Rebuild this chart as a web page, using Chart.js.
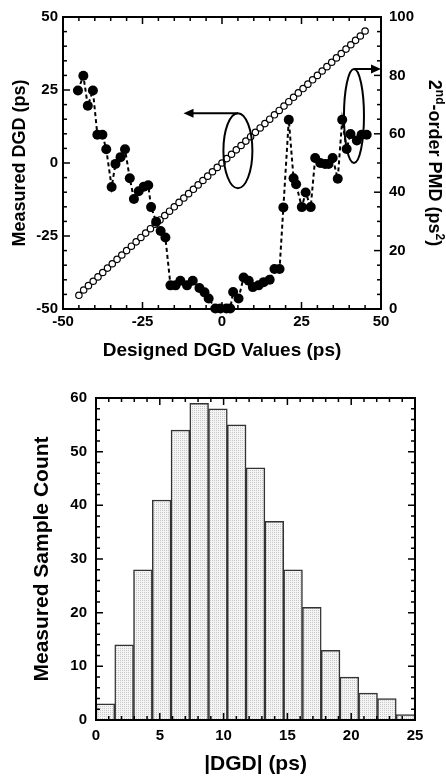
<!DOCTYPE html>
<html>
<head>
<meta charset="utf-8">
<script src="https://cdn.jsdelivr.net/npm/chart.js@4.4.0/dist/chart.umd.min.js"></script>
<style>
  body { margin: 0; background: #fff; }
  canvas { display: block; }
</style>
</head>
<body>
<canvas id="dgdChart" width="446" height="370"></canvas>
<canvas id="histChart" width="446" height="407"></canvas>
<script>
// top panel: designed vs measured DGD (open circles) and 2nd-order PMD (filled)
const designedDgd = [-45, -43.5, -42, -40.5, -39, -37.5, -36, -34.5, -33, -31.5, -30, -28.5, -27, -25.5, -24, -22.5, -21, -19.5, -18, -16.5,
  -15, -13.5, -12, -10.5, -9, -7.5, -6, -4.5, -3, -1.5, 0, 1.5, 3, 4.5, 6, 7.5, 9, 10.5, 12, 13.5,
  15, 16.5, 18, 19.5, 21, 22.5, 24, 25.5, 27, 28.5, 30, 31.5, 33, 34.5, 36, 37.5, 39, 40.5, 42, 43.5, 45];
const measuredDgd = [-45.3, -43.5, -42, -40.5, -39, -37.5, -36, -34.5, -33, -31.5, -30, -28.5, -27, -25.5, -24, -22.5, -21, -19.5, -18, -16.5,
  -15, -13.5, -12, -10.5, -9, -7.5, -6, -4.5, -3, -1.5, 0, 1.5, 3, 4.5, 6, 7.5, 9, 10.5, 12, 13.5,
  15, 16.5, 18, 19.5, 21, 22.5, 24, 25.5, 27, 28.5, 30, 31.5, 33, 34.5, 36, 37.5, 39, 40.5, 42, 43.5, 45.2];

const pmdDgd = [-45.3, -43.6, -42.2, -40.6, -39.2, -37.6, -36.4, -34.7, -33.5, -31.9, -30.5, -29.0, -27.7, -26.2, -24.6, -23.2, -22.3, -20.7, -19.3, -17.8,
  -16.2, -14.6, -13.1, -11.0, -9.2, -7.1, -5.5, -4.2, -2.1, -0.5, 1.4, 2.6, 3.5, 5.2, 6.8, 8.4, 9.7, 11.5, 13.1, 15.0,
  16.5, 18.1, 19.3, 21.0, 22.5, 23.3, 25.1, 26.3, 27.9, 29.3, 30.9, 32.4, 33.5, 34.8, 36.4, 37.8, 39.2, 40.4, 42.4, 43.9, 45.5];
const pmdValues = [74.8, 79.9, 69.6, 74.8, 59.7, 59.7, 54.7, 41.8, 49.7, 52.0, 54.7, 44.8, 37.7, 40.3, 41.9, 42.4, 34.9, 29.9, 26.7, 24.5,
  8.1, 8.1, 9.7, 8.1, 9.7, 7.2, 5.7, 3.6, 0.2, 0.2, 0.2, 0.2, 5.8, 3.6, 10.8, 9.7, 7.5, 8.1, 9.2, 10.0,
  13.7, 13.7, 34.8, 64.8, 44.8, 42.7, 34.9, 39.9, 34.9, 51.7, 50.0, 49.7, 49.7, 51.7, 44.6, 64.8, 54.8, 59.9, 57.7, 59.7, 59.7];

// bottom panel: histogram of |DGD|
const binEdges = [0, 1.47, 2.94, 4.41, 5.88, 7.35, 8.82, 10.29, 11.76, 13.24, 14.71, 16.18, 17.65, 19.12, 20.59, 22.06, 23.53, 25];
const sampleCounts = [3, 14, 28, 41, 54, 59, 58, 55, 47, 37, 28, 21, 13, 8, 5, 4, 1];

const FONT = '"Liberation Sans", Arial, Helvetica, sans-serif';
Chart.defaults.font.family = FONT;
Chart.defaults.color = '#000';

const tickFont = { family: FONT, size: 15, weight: 'bold' };

// frame + inward ticks on all four sides
function drawFrame(chart, spec) {
  const ctx = chart.ctx;
  const a = chart.chartArea;
  ctx.save();
  ctx.strokeStyle = '#000';
  ctx.lineWidth = 1.5;
  spec.forEach(s => {
    const scale = chart.scales[s.id];
    for (let v = scale.min; v <= scale.max + 1e-9; v += s.minor) {
      const major = Math.abs(v / s.major - Math.round(v / s.major)) < 1e-6;
      const len = major ? 7 : 4;
      const p = scale.getPixelForValue(v);
      ctx.beginPath();
      s.sides.forEach(side => {
        if (side === 'bottom') { ctx.moveTo(p, a.bottom); ctx.lineTo(p, a.bottom - len); }
        if (side === 'top') { ctx.moveTo(p, a.top); ctx.lineTo(p, a.top + len); }
        if (side === 'left') { ctx.moveTo(a.left, p); ctx.lineTo(a.left + len, p); }
        if (side === 'right') { ctx.moveTo(a.right, p); ctx.lineTo(a.right - len, p); }
      });
      ctx.stroke();
    }
  });
  ctx.lineWidth = 2;
  ctx.strokeRect(a.left, a.top, a.right - a.left, a.bottom - a.top);
  ctx.restore();
}

function arrow(ctx, x0, y, x1) {
  const dir = Math.sign(x1 - x0);
  ctx.beginPath();
  ctx.moveTo(x0, y);
  ctx.lineTo(x1 - dir * 9, y);
  ctx.stroke();
  ctx.beginPath();
  ctx.moveTo(x1, y);
  ctx.lineTo(x1 - dir * 10, y - 4.5);
  ctx.lineTo(x1 - dir * 10, y + 4.5);
  ctx.closePath();
  ctx.fill();
}

const topDecor = {
  id: 'topDecor',
  afterDraw(chart) {
    drawFrame(chart, [
      { id: 'x', major: 25, minor: 5, sides: ['bottom', 'top'] },
      { id: 'y', major: 25, minor: 5, sides: ['left'] },
      { id: 'y1', major: 20, minor: 5, sides: ['right'] }
    ]);
    const ctx = chart.ctx;
    const x = chart.scales.x, y = chart.scales.y, y1 = chart.scales.y1;
    ctx.save();
    ctx.strokeStyle = '#000';
    ctx.fillStyle = '#000';
    ctx.lineWidth = 2;
    // ellipse around the measured DGD line, arrow to left axis
    let cx = x.getPixelForValue(5), cy = y.getPixelForValue(4.2);
    ctx.beginPath();
    ctx.ellipse(cx, cy, 14.5, 37.5, 0, 0, Math.PI * 2);
    ctx.stroke();
    arrow(ctx, cx, cy - 37.5, x.getPixelForValue(-12.1));
    // ellipse around PMD points, arrow to right axis
    cx = x.getPixelForValue(41.5); cy = y1.getPixelForValue(66.1);
    ctx.beginPath();
    ctx.ellipse(cx, cy, 10, 47, 0, 0, Math.PI * 2);
    ctx.stroke();
    arrow(ctx, cx, cy - 47, chart.chartArea.right);
    // right axis title with superscripts
    const big = 'bold 18px ' + FONT, small = 'bold 12px ' + FONT;
    const parts = [['2', big, 0], ['nd', small, 7], ['-order PMD (ps', big, 0], ['2', small, 7], [')', big, 0]];
    let total = 0;
    parts.forEach(p => { ctx.font = p[1]; total += ctx.measureText(p[0]).width; });
    ctx.translate(429, (chart.chartArea.top + chart.chartArea.bottom) / 2);
    ctx.rotate(Math.PI / 2);
    ctx.textBaseline = 'alphabetic';
    let tx = -total / 2;
    parts.forEach(p => {
      ctx.font = p[1];
      ctx.fillText(p[0], tx, 0 - p[2]);
      tx += ctx.measureText(p[0]).width;
    });
    ctx.restore();
  }
};

new Chart(document.getElementById('dgdChart'), {
  type: 'scatter',
  data: {
    datasets: [{
      label: '2nd-order PMD',
      data: pmdDgd.map((d, i) => ({ x: d, y: pmdValues[i] })),
      yAxisID: 'y1',
      showLine: true,
      borderColor: '#000',
      borderWidth: 2,
      borderDash: [4, 3],
      pointRadius: 5,
      pointBackgroundColor: '#000',
      pointBorderColor: '#000',
      pointBorderWidth: 0,
      clip: false
    }, {
      label: 'Measured DGD',
      data: designedDgd.map((d, i) => ({ x: d, y: measuredDgd[i] })),
      yAxisID: 'y',
      showLine: false,
      pointRadius: 3.2,
      pointBackgroundColor: '#fff',
      pointBorderColor: '#000',
      pointBorderWidth: 1.2,
      clip: false
    }]
  },
  options: {
    responsive: false,
    animation: false,
    layout: { padding: { top: 11, left: 0, right: 0, bottom: 0 } },
    plugins: { legend: { display: false }, tooltip: { enabled: false } },
    scales: {
      x: {
        type: 'linear', min: -50, max: 50,
        afterFit(s) { s.height = 61; },
        ticks: { stepSize: 25, font: tickFont, color: '#000', padding: 4, maxRotation: 0 },
        grid: { display: false, drawTicks: false },
        border: { display: false },
        title: { display: true, text: 'Designed DGD Values (ps)', color: '#000',
          font: { family: FONT, size: 19, weight: 'bold' }, padding: { top: 0, bottom: 8 } }
      },
      y: {
        position: 'left', min: -50, max: 50,
        afterFit(s) { s.width = 63; },
        ticks: { stepSize: 25, font: tickFont, color: '#000', padding: 5 },
        grid: { display: false, drawTicks: false },
        border: { display: false },
        title: { display: true, text: 'Measured DGD (ps)', color: '#000',
          font: { family: FONT, size: 18, weight: 'bold' }, padding: { top: 9, bottom: 0 } }
      },
      y1: {
        position: 'right', min: 0, max: 100,
        afterFit(s) { s.width = 65; },
        ticks: { stepSize: 20, font: tickFont, color: '#000', padding: 8 },
        grid: { display: false, drawTicks: false },
        border: { display: false }
      }
    }
  },
  plugins: [topDecor]
});

// dotted light-grey fill like the printed histogram
const pat = document.createElement('canvas');
pat.width = 2; pat.height = 2;
const pctx = pat.getContext('2d');
pctx.fillStyle = '#f4f4f4';
pctx.fillRect(0, 0, 2, 2);
pctx.fillStyle = '#c8c8c8';
pctx.fillRect(0, 0, 1, 1);
const dotFill = pctx.createPattern(pat, 'repeat');

const histDecor = {
  id: 'histDecor',
  afterDraw(chart) {
    drawFrame(chart, [
      { id: 'x', major: 5, minor: 1, sides: ['bottom', 'top'] },
      { id: 'y', major: 10, minor: 2, sides: ['left', 'right'] }
    ]);
  }
};

const binCenters = sampleCounts.map((c, i) => (binEdges[i] + binEdges[i + 1]) / 2);

new Chart(document.getElementById('histChart'), {
  type: 'bar',
  data: {
    datasets: [{
      label: 'Samples',
      data: binCenters.map((c, i) => ({ x: c, y: sampleCounts[i] })),
      backgroundColor: dotFill,
      borderColor: '#333',
      borderWidth: 1.5,
      barPercentage: 1,
      categoryPercentage: 1
    }]
  },
  options: {
    responsive: false,
    animation: false,
    layout: { padding: { top: 28, left: 0, right: 31, bottom: 0 } },
    plugins: { legend: { display: false }, tooltip: { enabled: false } },
    scales: {
      x: {
        type: 'linear', min: 0, max: 25, offset: false,
        afterFit(s) { s.height = 57; },
        ticks: { stepSize: 5, font: { family: FONT, size: 15, weight: 'bold' }, color: '#000', padding: 7, maxRotation: 0 },
        grid: { display: false, drawTicks: false, offset: false },
        border: { display: false },
        title: { display: true, text: '|DGD| (ps)', color: '#000',
          font: { family: FONT, size: 21, weight: 'bold' }, padding: { top: 0, bottom: 0 } }
      },
      y: {
        min: 0, max: 60,
        afterFit(s) { s.width = 96; },
        ticks: { stepSize: 10, font: { family: FONT, size: 15, weight: 'bold' }, color: '#000', padding: 9 },
        grid: { display: false, drawTicks: false },
        border: { display: false },
        title: { display: true, text: 'Measured Sample Count', color: '#000',
          font: { family: FONT, size: 21, weight: 'bold' }, padding: { top: 30, bottom: 0 } }
      }
    }
  },
  plugins: [histDecor]
});
</script>
</body>
</html>
